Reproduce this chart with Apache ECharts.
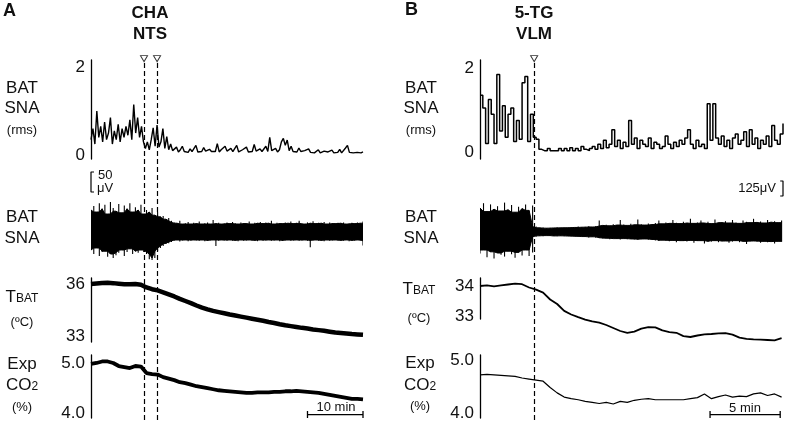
<!DOCTYPE html>
<html><head><meta charset="utf-8">
<script src="https://cdn.jsdelivr.net/npm/echarts@6/dist/echarts.min.js"></script>
<style>html,body{margin:0;padding:0;background:#fff}#c{width:787px;height:427px}</style>
</head><body><div id="c"></div>
<script>
// ---------------- Panel A (CHA, NTS) ----------------
const xMaxA = 49;                 // minutes
const injA = [9.55, 11.9];        // injection markers (min)
const barA = [39, 49];            // 10 min scale bar
const rmsA_step = 0.35;
const rmsA = [0.35,0.6,0.25,1.0,0.4,0.65,0.3,0.75,0.35,0.5,0.85,0.25,0.55,0.35,0.7,0.3,0.6,0.4,0.65,0.45,0.8,0.35,1.15,0.5,0.85,0.4,0.65,0.3,
  0.15,0.3,0.12,0.35,0.62,0.2,0.68,0.18,0.3,0.6,0.15,0.42,0.12,0.25,0.1,
  0.1,0.18,0.07,0.12,0.2,0.08,0.1,0.06,0.14,0.08,
  0.09,0.22,0.07,0.11,0.08,0.17,0.09,0.07,0.13,0.08,
  0.1,0.08,0.26,0.07,0.12,0.08,0.2,0.09,0.07,0.15,
  0.08,0.1,0.22,0.07,0.09,0.12,0.08,0.18,0.07,0.1,
  0.08,0.24,0.09,0.07,0.14,0.08,0.1,0.2,0.08,0.4,
  0.1,0.08,0.15,0.07,0.12,0.3,0.38,0.22,0.34,0.1,
  0.2,0.08,0.12,0.07,0.16,0.08,0.06,0.1,0.07,0.14,
  0.06,0.08,0.05,0.07,0.12,0.05,0.06,0.09,0.05,0.07,
  0.06,0.11,0.05,0.07,0.06,0.13,0.05,0.07,0.16,0.22,
  0.06,0.08,0.05,0.07,0.06,0.09,0.05,0.07];
const rawA_step = 0.5; // envelope of raw BAT SNA, µV
const rawA_up = [55,65,50,72,58,68,45,75,60,52,70,48,66,58,72,50,62,55,68,45,
  55,50,60,42,50,38,40,32,35,28,
  24,22,28,20,22,25,20,23,21,26,20,22,24,20,30,21,23,20,22,24,
  21,25,22,20,24,22,21,26,20,23,22,25,21,24,22,28,20,23,22,21,
  24,22,26,21,23,28,22,20,24,22,27,21,23,22,25,20,24,22,21,23,
  22,24,20,22,23,21,24,22,26];
const rawA_lo = [45,55,40,60,50,48,62,55,65,58,52,45,60,50,42,55,48,52,45,50,
  55,68,70,65,48,40,35,30,28,25,
  22,20,24,21,20,23,22,20,21,22,20,23,22,21,20,35,22,20,21,22,
  20,22,21,23,20,22,21,20,22,21,23,20,22,21,20,22,21,20,23,22,
  21,20,22,21,20,22,21,20,22,38,21,20,22,21,23,20,22,21,20,22,
  21,22,20,23,21,22,20,22,34];
const tbatA_step = 1;
const tbatA = [36.00,36.03,36.06,36.07,36.05,36.02,35.99,35.98,36.0,35.96,35.8,35.7,35.63,35.52,35.4,35.28,35.14,35.02,34.9,34.76,
  34.64,34.54,34.45,34.38,34.31,34.24,34.18,34.12,34.06,34.0,33.94,33.88,33.81,33.75,33.68,33.62,33.57,33.52,33.47,33.43,
  33.38,33.34,33.3,33.25,33.2,33.17,33.14,33.11,33.09,33.07];
const co2A_step = 1;
const co2A = [4.98,5.0,5.03,5.03,5.0,4.94,4.92,4.9,4.94,4.93,4.8,4.78,4.77,4.72,4.69,4.66,4.62,4.6,4.57,4.54,
  4.52,4.5,4.48,4.46,4.45,4.44,4.43,4.42,4.41,4.41,4.42,4.42,4.42,4.43,4.43,4.44,4.44,4.45,4.44,4.43,
  4.42,4.41,4.39,4.37,4.35,4.33,4.31,4.29,4.29,4.28];

// ---------------- Panel B (5-TG, VLM) ----------------
const xMaxB = 21.6;
const injB = [3.86];
const barB = [16.4, 21.4];        // 5 min scale bar
const rmsB_step = 0.2;
const rmsB = [1.35,1.05,0.2,1.25,0.9,0.2,1.85,0.5,1.1,0.35,0.9,1.05,0.25,0.75,0.3,1.65,1.8,0.25,0.9,0.35,
  0.3,
  0.06,0.03,0.03,0.08,0.03,0.03,0.03,0.08,0.03,0.08,
  0.03,0.1,0.03,0.08,0.03,0.13,0.06,0.03,0.08,0.13,
  0.06,0.18,0.08,0.28,0.1,0.18,0.53,0.13,0.28,0.08,
  0.23,0.13,0.75,0.18,0.33,0.08,0.28,0.18,0.13,0.33,
  0.08,0.23,0.18,0.08,0.13,0.38,0.18,0.08,0.23,0.13,
  0.28,0.18,0.33,0.53,0.18,0.08,0.28,0.13,0.18,0.08,
  1.15,0.28,1.15,0.33,0.18,0.38,0.13,0.28,0.08,0.33,
  0.43,0.18,0.28,0.48,0.13,0.53,0.18,0.33,0.08,0.28,
  0.18,0.38,0.13,0.63,0.28,0.18,0.43,0.68];
const rawB_step = 0.25;
const rawB_up = [200,240,170,230,190,215,175,245,185,225,165,210,195,230,180,220,
  45,35,38,32,36,34,40,35,38,36,42,38,45,40,44,48,42,50,
  95,55,60,52,65,58,100,62,55,68,60,105,65,58,70,62,
  75,95,68,80,72,100,78,70,85,75,110,72,80,95,75,85,70,105,78,82,90,75,100,80,72,95,85,78,110,80,88,75,100,82,90,78,95];
const rawB_lo = [180,150,210,165,220,175,190,205,160,185,215,170,195,150,200,170,
  40,32,35,30,34,33,36,32,35,34,38,36,40,38,42,45,40,48,
  50,55,52,60,55,58,62,55,60,58,62,65,60,58,65,62,
  70,75,68,72,78,70,85,72,75,80,70,90,75,72,95,78,80,72,85,78,75,90,80,72,85,78,100,80,75,82,90,78,85,80,95,78,82];
const tbatB_step = 0.5;
const tbatB = [34.0,34.02,33.99,34.02,34.05,34.08,34.06,33.95,33.88,33.78,33.55,33.4,33.17,33.05,32.96,32.88,32.82,32.78,32.7,32.6,
  32.5,32.44,32.48,32.58,32.63,32.62,32.52,32.46,32.44,32.33,32.3,32.35,32.39,32.4,32.42,32.43,32.38,32.28,32.24,32.22,
  32.21,32.2,32.19,32.26];
const co2B_step = 0.5;
const co2B = [4.72,4.73,4.72,4.71,4.7,4.69,4.66,4.64,4.62,4.6,4.48,4.38,4.3,4.27,4.25,4.22,4.2,4.18,4.2,4.17,
  4.22,4.2,4.24,4.26,4.27,4.25,4.25,4.25,4.25,4.25,4.27,4.29,4.36,4.27,4.31,4.34,4.3,4.32,4.31,4.36,
  4.38,4.33,4.36,4.3];

// ---------------- build ----------------
const FF = '"Liberation Sans", Arial, sans-serif';
const INK = '#111';
const seq = (arr, step) => arr.map((v, i) => [i * step, v]);
// solid core of the raw band: local minimum of neighbouring envelope samples
const core = (arr, sign) => arr.map((v, i) => sign * Math.min(v, i > 0 ? arr[i - 1] : v, i < arr.length - 1 ? arr[i + 1] : v));

const grids = [], xAxes = [], yAxes = [], series = [];
function addGrid(left, width, top, height, xmax, ymin, ymax, labels, dec) {
  const g = grids.length;
  grids.push({left, width, top, height, containLabel: false, outerBoundsMode: 'none'});
  xAxes.push({gridIndex: g, type: 'value', min: 0, max: xmax, show: false});
  yAxes.push({
    gridIndex: g, type: 'value', min: ymin, max: ymax, show: !!labels,
    axisLine: {show: true, lineStyle: {color: '#000', width: 1.3}},
    axisTick: {show: false}, splitLine: {show: false},
    axisLabel: {show: !!labels, customValues: labels || [], fontSize: 17, color: INK, fontFamily: FF, margin: 6,
      formatter: v => dec ? Number(v).toFixed(dec) : String(v)}
  });
  return g;
}
function line(g, data, w, extra) {
  series.push(Object.assign({type: 'line', xAxisIndex: g, yAxisIndex: g, data, symbol: 'none', showSymbol: false,
    lineStyle: {color: '#000', width: w}, silent: true}, extra || {}));
}

function panel(left, width, xmax, d) {
  const g1 = addGrid(left, width, 60, 99, xmax, d.rmsMin, d.rmsMax, [0, 2], 0);
  line(g1, seq(d.rms, d.rmsStep), d.rmsW, d.rmsStepMode ? {step: 'end'} : {});
  const g2 = addGrid(left, width, 162, 140, xmax, -d.rawRange, d.rawRange, null);
  const area = {areaStyle: {color: '#000', opacity: 1, origin: 0}};
  line(g2, seq(core(d.rawUp, 1), d.rawStep), 1, area);
  line(g2, seq(core(d.rawLo, -1), d.rawStep), 1, area);
  series.push({type: 'custom', xAxisIndex: g2, yAxisIndex: g2, silent: true, clip: true,
    data: d.rawUp.map((u, i) => [i * d.rawStep, u, -d.rawLo[i]]),
    renderItem: (p, api) => {
      const a = api.coord([api.value(0), api.value(1)]);
      const b = api.coord([api.value(0), api.value(2)]);
      return {type: 'line', shape: {x1: a[0], y1: a[1], x2: b[0], y2: b[1]}, style: {stroke: '#000', lineWidth: 1.1}};
    }});
  line(g2, d.bracket, 1.2);
  const g3 = addGrid(left, width, d.tTop, d.tH, xmax, d.tMin, d.tMax, d.tLabels, 0);
  line(g3, seq(d.tbat, d.tStep), d.tW, {clip: false});
  const g4 = addGrid(left, width, 355, 63, xmax, d.cMin, d.cMax, [4, 5], 1);
  line(g4, seq(d.co2, d.cStep), d.cW);
  const g5 = addGrid(left, width, 55, 365, xmax, 0, 1, null);
  series.push({type: 'scatter', xAxisIndex: g5, yAxisIndex: g5, silent: true,
    data: d.inj.map(t => [t, 0.99]), symbol: 'triangle', symbolRotate: 180, symbolSize: [7, 6],
    itemStyle: {color: '#fff', borderColor: '#000', borderWidth: 1},
    markLine: {silent: true, symbol: ['none', 'none'], label: {show: false},
      lineStyle: {color: '#000', width: 1.2, type: [5, 3]},
      data: d.inj.map(t => [{coord: [t, 0.978]}, {coord: [t, 0]}])}});
  line(g5, d.bar.map(t => [t, 0.015]), 1.3, {symbol: 'rect', symbolSize: [1.3, 7], showSymbol: true,
    itemStyle: {color: '#000'}});
}

panel(91, 272, xMaxA, {
  rms: rmsA, rmsStep: rmsA_step, rmsMin: -0.09, rmsMax: 2.16, rmsW: 1.4,
  rawUp: rawA_up, rawLo: rawA_lo, rawStep: rawA_step, rawRange: 175,
  bracket: [[0.55, 150], [0, 150], [0, 100], [0.55, 100]],
  tbat: tbatA, tStep: tbatA_step, tTop: 278, tH: 64, tMin: 32.654, tMax: 36.346, tLabels: [33, 36], tW: 4.5,
  co2: co2A, cStep: co2A_step, cMin: 3.911, cMax: 5.158, cW: 3.8,
  inj: injA, bar: barA
});
panel(480, 303, xMaxB, {
  rms: rmsB, rmsStep: rmsB_step, rmsMin: -0.17, rmsMax: 2.195, rmsStepMode: true, rmsW: 1.5,
  rawUp: rawB_up, rawLo: rawB_lo, rawStep: rawB_step, rawRange: 583.3,
  bracket: [[21.4, 425], [21.6, 425], [21.6, 300], [21.4, 300]],
  tbat: tbatB, tStep: tbatB_step, tTop: 278, tH: 41, tMin: 32.9, tMax: 34.267, tLabels: [33, 34], tW: 1.8,
  co2: co2B, cStep: co2B_step, cMin: 3.906, cMax: 5.094, cW: 1.2,
  inj: injB, bar: barB
});

function txt(x, y, text, size, opt) {
  opt = opt || {};
  const st = {text, fontSize: size, fontFamily: FF, fill: INK, fontWeight: opt.bold ? 'bold' : 'normal',
    align: opt.align || 'center', verticalAlign: 'middle', textAlign: opt.align || 'center', textVerticalAlign: 'middle'};
  if (opt.rich) st.rich = opt.rich;
  return {type: 'text', x, y, silent: true, style: st};
}
const richT = {t: {fontSize: 17, fontFamily: FF, fill: INK, color: INK, verticalAlign: 'bottom'},
               s: {fontSize: 12, fontFamily: FF, fill: INK, color: INK, verticalAlign: 'bottom', padding: [0, 0, 1, 0]}};
const graphic = [
  txt(3, 11, 'A', 18, {bold: true, align: 'left'}),
  txt(150, 13, 'CHA', 17, {bold: true}), txt(150, 34, 'NTS', 17, {bold: true}),
  txt(405, 10, 'B', 18, {bold: true, align: 'left'}),
  txt(534, 13, '5-TG', 17, {bold: true}), txt(534, 34, 'VLM', 17, {bold: true}),
  // left labels A
  txt(22, 88, 'BAT', 17), txt(22, 108, 'SNA', 17), txt(22, 130, '(rms)', 13),
  txt(22, 217, 'BAT', 17), txt(22, 238, 'SNA', 17),
  txt(22, 297, '{t|T}{s|BAT}', 17, {rich: richT}), txt(22, 322, '(ºC)', 13),
  txt(22, 364, 'Exp', 17), txt(22, 385, '{t|CO}{s|2}', 17, {rich: richT}), txt(22, 407, '(%)', 13),
  // left labels B
  txt(421, 88, 'BAT', 17), txt(421, 108, 'SNA', 17), txt(421, 130, '(rms)', 13),
  txt(421, 217, 'BAT', 17), txt(421, 238, 'SNA', 17),
  txt(419, 289, '{t|T}{s|BAT}', 17, {rich: richT}), txt(419, 318, '(ºC)', 13),
  txt(420, 363, 'Exp', 17), txt(420, 385, '{t|CO}{s|2}', 17, {rich: richT}), txt(420, 406, '(%)', 13),
  // scale bar texts
  txt(98, 175, '50', 13, {align: 'left'}), txt(97, 188, 'μV', 13, {align: 'left'}),
  txt(776, 188, '125μV', 13, {align: 'right'}),
  txt(336, 407, '10 min', 13), txt(745, 408, '5 min', 13)
];

const chart = echarts.init(document.getElementById('c'), null, {renderer: 'canvas'});
chart.setOption({animation: false, backgroundColor: '#fff', grid: grids, xAxis: xAxes, yAxis: yAxes, series, graphic});
</script></body></html>
